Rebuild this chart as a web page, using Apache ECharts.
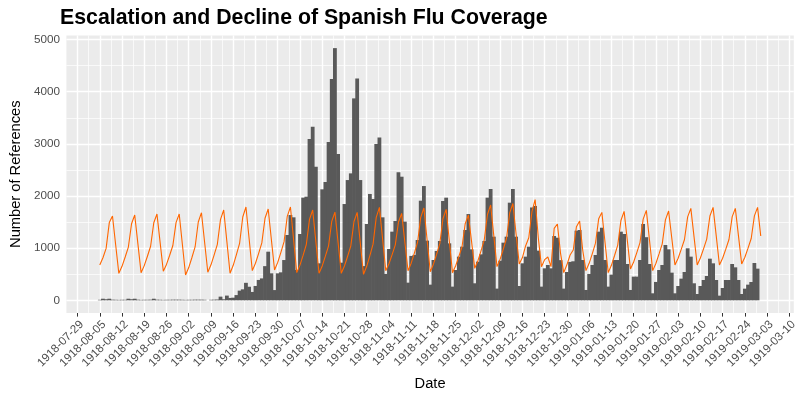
<!DOCTYPE html>
<html><head><meta charset="utf-8">
<script src="https://cdn.jsdelivr.net/npm/echarts@6/dist/echarts.min.js"></script>
<style>html,body{margin:0;padding:0;background:#fff}#c{width:800px;height:400px}</style>
</head><body><div id="c"></div>
<script>
const titleText = 'Escalation and Decline of Spanish Flu Coverage';
const xTitle = 'Date';
const yTitle = 'Number of References';

// weekly x tick labels (Mondays)
const tickLabels = ['1918-07-29','1918-08-05','1918-08-12','1918-08-19','1918-08-26','1918-09-02','1918-09-09',
  '1918-09-16','1918-09-23','1918-09-30','1918-10-07','1918-10-14','1918-10-21','1918-10-28','1918-11-04',
  '1918-11-11','1918-11-18','1918-11-25','1918-12-02','1918-12-09','1918-12-16','1918-12-23','1918-12-30',
  '1919-01-06','1919-01-13','1919-01-20','1919-01-27','1919-02-03','1919-02-10','1919-02-17','1919-02-24',
  '1919-03-03','1919-03-10'];
const yTicks = [0, 1000, 2000, 3000, 4000, 5000];

// daily reference counts, first day = barStart (null = no data that day)
const barStart = '1918-08-05';
const references = [
  10, 30, 20, 30, 12, 10, 8,
  10, 10, 30, 20, 30, 12, 8,
  10, 10, 12, 30, 12, 10, 8,
  10, 10, 12, 12, 12, 10, 8,
  10, 10, 12, 12, 12, 10, null,
  10, 12, 15, 70, 20, 90, 45,
  50, 100, 185, 210, 335, 260, 160,
  275, 390, 420, 655, 932, 517, 196,
  517, 536, 772, 1252, 1635, 1591, 581,
  1271, 1968, 1987, 3092, 3328, 2562, 709,
  2128, 2268, 3035, 4245, 4836, 2804, 721,
  1846, 2306, 2434, 3872, 4255, 2306, 656,
  1463, 2039, 1943, 2996, 3124, 1591, 505,
  984, 1316, 1521, 2453, 2370, 1508, 338,
  851, 870, 1156, 1910, 2191, 1144, 300,
  773, 946, 1137, 1904, 1968, 1092, 262,
  581, 837, 1028, 1348, 1654, 977, 326,
  741, 881, 1137, 1968, 2134, 1220, 224,
  760, 1105, 1220, 1872, 2134, 1220, 274,
  709, 837, 1028, 1780, 1808, 952, 262,
  613, 677, 613, 1232, 1200, 770, 224,
  543, 736, 748, 1335, 1348, 773, 198,
  505, 677, 869, 1316, 1392, 773, 262,
  492, 773, 773, 1316, 1271, 696, 198,
  454, 454, 773, 1463, 1210, 696, 134,
  352, 581, 677, 1060, 977, 530, 134,
  274, 415, 543, 997, 837, 326, 121,
  274, 389, 466, 798, 709, 389, 89,
  236, 389, 389, 696, 632, 389, 121,
  223, 300, 351, 715, 607
];

// orange weekly-pattern line, first day = lineStart
const lineStart = '1918-08-05';
const weeklyPattern = [
  677, 816, 995, 1490, 1616, 1066, 517,
  651, 830, 1021, 1468, 1636, 1083, 530,
  665, 845, 1036, 1486, 1655, 1106, 556,
  688, 864, 1051, 1490, 1655, 1070, 485,
  628, 820, 1023, 1501, 1680, 1109, 537,
  680, 871, 1074, 1552, 1731, 1125, 518,
  671, 874, 1090, 1598, 1789, 1179, 569,
  711, 900, 1100, 1573, 1750, 1166, 582,
  727, 920, 1125, 1608, 1789, 1160, 530,
  674, 866, 1070, 1551, 1731, 1125, 518,
  659, 846, 1045, 1514, 1690, 1104, 517,
  657, 844, 1043, 1511, 1686, 1092, 498,
  652, 858, 1076, 1589, 1782, 1175, 568,
  700, 876, 1063, 1502, 1667, 1118, 568,
  712, 905, 1109, 1590, 1770, 1160, 549,
  692, 883, 1086, 1564, 1743, 1137, 530,
  663, 839, 1027, 1469, 1635, 1124, 613,
  759, 953, 1159, 1645, 1827, 1236, 645,
  790, 984, 1190, 1675, 1857, 1277, 696,
  820, 1042, 1200, 1700, 1930, 1200, 645,
  780, 830, 645, 1380, 1463, 900, 530,
  680, 869, 964, 1412, 1519, 950, 569,
  709, 896, 1095, 1562, 1686, 1108, 530,
  671, 859, 1059, 1530, 1706, 1153, 600,
  735, 915, 1106, 1556, 1725, 1147, 569,
  706, 889, 1083, 1541, 1712, 1195, 677,
  807, 981, 1166, 1600, 1763, 1220, 677,
  810, 986, 1174, 1616, 1782, 1230, 677,
  807, 981, 1166, 1600, 1763, 1230, 696,
  826, 1000, 1185, 1619, 1782, 1233
];

function dayNum(s) {
  const p = s.split('-').map(Number);
  return Date.UTC(p[0], p[1] - 1, p[2]) / 86400000;
}
const origin = dayNum(tickLabels[0]);
const tickDays = tickLabels.map(s => dayNum(s) - origin);
const barOffset = dayNum(barStart) - origin;
const lineOffset = dayNum(lineStart) - origin;
const barData = [];
references.forEach((v, i) => { if (v !== null) barData.push([barOffset + i, v]); });
const lineData = weeklyPattern.map((v, i) => [lineOffset + i, v]);

// ggplot-like gridlines
const xMinor = [tickDays[0] - (tickDays[1] - tickDays[0]) / 2];
for (let i = 0; i < tickDays.length - 1; i++) xMinor.push((tickDays[i] + tickDays[i + 1]) / 2);
const yMinor = [];
for (let i = 0; i < yTicks.length - 1; i++) yMinor.push((yTicks[i] + yTicks[i + 1]) / 2);

const xMin = -3.5, xMax = 225.4;
const yMax = 4836 * 1.05, yMin = -4836 * 0.05;

const gridLines = [];
xMinor.filter(v => v > xMin && v < xMax).forEach(v => gridLines.push({xAxis: v, lineStyle: {width: 0.7}}));
yMinor.forEach(v => gridLines.push({yAxis: v, lineStyle: {width: 0.7}}));
tickDays.forEach(v => gridLines.push({xAxis: v, lineStyle: {width: 1.4}}));
yTicks.forEach(v => gridLines.push({yAxis: v, lineStyle: {width: 1.4}}));

const FONT = '"Liberation Sans", Arial, sans-serif';
const chart = echarts.init(document.getElementById('c'), null, {renderer: 'canvas'});
chart.setOption({
  animation: false,
  backgroundColor: '#FFFFFF',
  title: {
    text: titleText, left: 60, top: 8, padding: 0,
    textStyle: {fontFamily: FONT, fontSize: 21.3, fontWeight: 'bold', color: '#000'}
  },
  grid: {left: 60, right: 6.2, top: 35.5, bottom: 87.1, show: true, backgroundColor: '#EBEBEB', borderWidth: 0},
  xAxis: {
    type: 'value', min: xMin, max: xMax,
    name: xTitle, nameLocation: 'middle', nameGap: 64,
    nameTextStyle: {fontFamily: FONT, fontSize: 14.67, color: '#000'},
    axisLine: {show: false, onZero: false},
    splitLine: {show: false},
    axisTick: {show: true, length: 3.7, customValues: tickDays, lineStyle: {color: '#333333', width: 1}},
    axisLabel: {
      customValues: tickDays, rotate: 45, margin: 5.5, color: '#4D4D4D',
      align: 'right', verticalAlign: 'top',
      fontFamily: FONT, fontSize: 11.7,
      formatter: v => { const i = tickDays.indexOf(v); return i >= 0 ? tickLabels[i] : ''; }
    }
  },
  yAxis: {
    type: 'value', min: yMin, max: yMax,
    name: yTitle, nameLocation: 'middle', nameGap: 40,
    nameTextStyle: {fontFamily: FONT, fontSize: 14.67, color: '#000'},
    axisLine: {show: false},
    splitLine: {show: false},
    axisTick: {show: true, length: 3.7, customValues: yTicks, lineStyle: {color: '#333333', width: 1}},
    axisLabel: {customValues: yTicks, margin: 6.5, color: '#4D4D4D', fontFamily: FONT, fontSize: 11.7,
      formatter: v => String(v)}
  },
  series: [
    {
      type: 'bar', name: 'References', data: barData, barWidth: 3.8,
      itemStyle: {color: '#595959'}, z: 10, silent: true,
      markLine: {
        silent: true, z: 1, symbol: ['none', 'none'], label: {show: false},
        lineStyle: {color: '#FFFFFF', type: 'solid'},
        emphasis: {disabled: true},
        data: gridLines
      }
    },
    {
      type: 'line', name: 'Weekly pattern', data: lineData, showSymbol: false, symbol: 'none',
      lineStyle: {color: '#FF6600', width: 1.1}, z: 11, silent: true
    }
  ]
});
</script>
</body></html>
